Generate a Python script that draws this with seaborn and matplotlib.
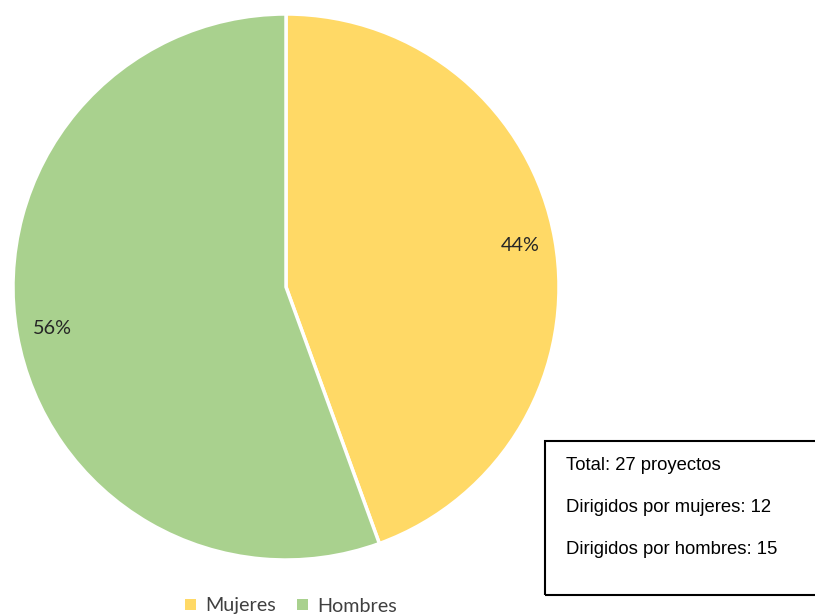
import matplotlib
matplotlib.use("Agg")
import matplotlib.pyplot as plt
import seaborn as sns
from matplotlib.patches import Patch, Rectangle

sns.set_style("white")
plt.rcParams['font.family'] = ['Lato', 'DejaVu Sans']

categories = ["Mujeres", "Hombres"]
values = [12, 15]
colors = ["#FFD966", "#A9D18E"]
box_lines = ["Total: 27 proyectos", "Dirigidos por mujeres: 12", "Dirigidos por hombres: 15"]

fig = plt.figure(figsize=(8.15, 6.15), dpi=100)
ax = fig.add_axes([13/815, 55/615, 546/815, 546/615])
wedges, texts, autotexts = ax.pie(
    values, colors=colors, startangle=90, counterclock=False,
    autopct=lambda p: f"{p:.0f}%", pctdistance=0.87,
    wedgeprops=dict(edgecolor="white", linewidth=2.5),
    textprops=dict(fontsize=14.3, color="#262626"))
ax.set_xlim(-1, 1)
ax.set_ylim(-1, 1)
ax.set_aspect("equal")
ax.axis("off")

# Info box
fig.patches.append(Rectangle((545/815, 1-595/615), 290/815, 154/615,
                             transform=fig.transFigure, fill=False,
                             edgecolor="black", linewidth=1.5, clip_on=False))
for t, y in zip(box_lines, [465, 508, 549]):
    fig.text(566/815, 1-y/615, t, fontsize=13.3, family="Liberation Sans",
             va="center", ha="left", color="black")

handles = [Patch(facecolor=c, edgecolor="none") for c in colors]
leg = fig.legend(handles, categories, loc="center", bbox_to_anchor=(291/815, 1-606/615),
                 ncol=2, frameon=False, fontsize=14.2, handlelength=0.55, handleheight=0.55,
                 handletextpad=0.45, columnspacing=1.1, labelcolor="#404040")

fig.savefig("out.png", dpi=100, facecolor="white")
